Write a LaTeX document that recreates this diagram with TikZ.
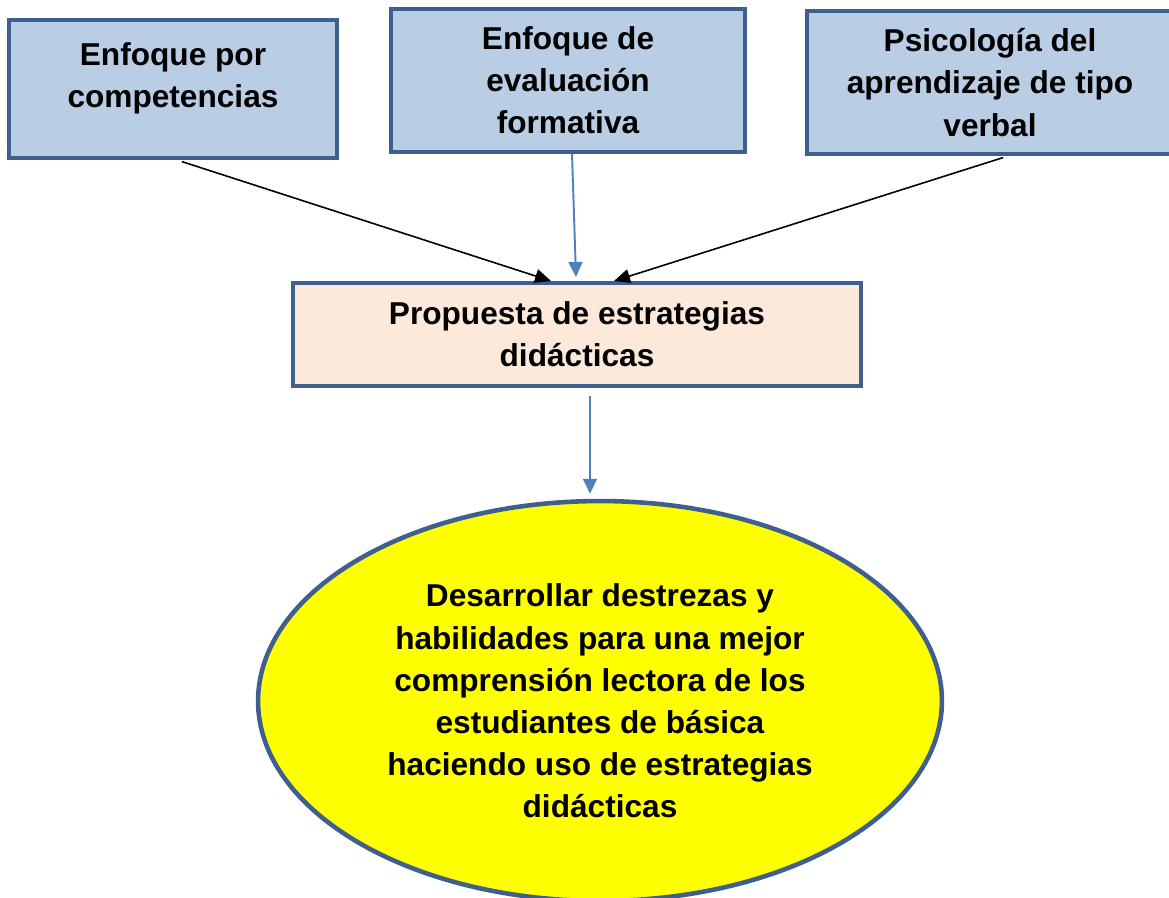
\documentclass[tikz,border=0pt]{standalone}
\usepackage{fontspec}
\setmainfont{Liberation Sans}
\usepackage{tikz}
\usetikzlibrary{arrows.meta,positioning,shapes.geometric,calc}

\definecolor{edgeblue}{HTML}{3F5F8F}
\definecolor{boxblue}{HTML}{B9CDE5}
\definecolor{peach}{HTML}{FDE9D9}
\definecolor{arrowblue}{HTML}{4F81BD}
\definecolor{goalyellow}{HTML}{FFFF00}

\begin{document}
\begin{tikzpicture}[
    x=0.02cm, y=-0.02cm,
    topbox/.style={draw=edgeblue, line width=2.3pt, fill=boxblue,
                   font=\fontsize{18}{24}\selectfont\bfseries, align=center, inner sep=0pt},
    midbox/.style={topbox, fill=peach},
    goalbox/.style={ellipse, draw=edgeblue, line width=2.6pt, fill=goalyellow,
                    font=\fontsize{18}{24}\selectfont\bfseries, align=center, inner sep=0pt},
    blk/.style={-{Triangle[length=0.32cm, width=0.28cm]}, line width=0.9pt, black},
    blu/.style={-{Triangle[length=0.3cm, width=0.28cm]}, line width=1.1pt, arrowblue}
  ]
    \useasboundingbox (0,0) rectangle (1169,897);

    %% -- fuentes --
    \node[topbox, minimum width=6.56cm, minimum height=2.76cm, text depth=0.55cm]
        (comp) at (173,89)  {Enfoque por\\competencias};
    \node[topbox, minimum width=7.08cm, minimum height=2.86cm]
        (eval) at (568,80.5) {Enfoque de\\evaluación\\formativa};
    \node[topbox, minimum width=7.32cm, minimum height=2.86cm]
        (psic) at (990,82.5) {Psicología del\\aprendizaje de tipo\\verbal};

    %% -- propuesta --
    \node[midbox, minimum width=11.36cm, minimum height=2.06cm]
        (prop) at (577,334.5) {Propuesta de estrategias\\didácticas};

    %% -- objetivo --
    \node[goalbox, minimum width=13.68cm, minimum height=8.0cm]
        (goal) at (600,701) {Desarrollar destrezas y\\habilidades para una mejor\\comprensión lectora de los\\estudiantes de básica\\haciendo uso de estrategias\\didácticas};

    %% -- flechas --
    \draw[blk, shorten <=0.1cm] ([xshift=0.08cm]comp.south) -- ([xshift=-0.52cm]prop.north);
    \draw[blu] ([xshift=0.08cm]eval.south) -- ([xshift=-0.02cm,yshift=0.08cm]prop.north);
    \draw[blk, shorten <=0.1cm] ([xshift=0.36cm]psic.south) -- ([xshift=0.74cm]prop.north);
    \draw[blu, shorten <=0.16cm] ([xshift=0.26cm]prop.south) -- ([xshift=-0.2cm,yshift=0.1cm]goal.north);
  \end{tikzpicture}
\end{document}
